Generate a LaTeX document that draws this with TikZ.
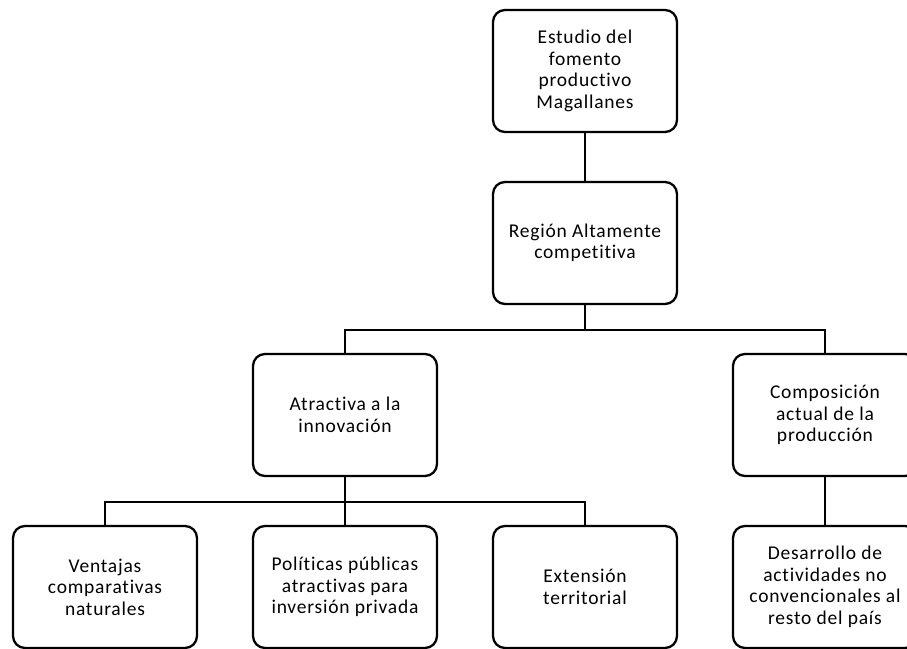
\documentclass[tikz,border=0pt]{standalone}
\usepackage{fontspec}
\setmainfont{Carlito}[LetterSpace=4,Ligatures=CommonOff]
\usetikzlibrary{positioning}

\begin{document}
\begin{tikzpicture}[
      node distance=172pt and 240pt,on grid,
      box/.style={draw, rounded corners=12pt, line width=2.3pt, minimum width=184pt,
        minimum height=122pt, align=center, inner sep=0pt,
        font=\fontsize{19.5}{21.5}\selectfont},
      link/.style={line width=2.5pt},
      ]
      \useasboundingbox (-585pt,71pt) rectangle (322pt,-577pt);

      \node[box]                 (estudio)                          {Estudio del\\fomento\\productivo\\Magallanes};
      \node[box]                 (region)      [below=of estudio]    {Región Altamente\\competitiva};
      \node[box]                 (atractiva)   [below left=of region]  {Atractiva a la\\innovación};
      \node[box]                 (composicion) [below right=of region] {Composición\\actual de la\\producción};
      \node[box]                 (politicas)   [below=of atractiva]  {Políticas públicas\\atractivas para\\inversión privada};
      \node[box]                 (ventajas)    [left=of politicas]   {Ventajas\\comparativas\\naturales};
      \node[box]                 (extension)   [right=of politicas]  {Extensión\\territorial};
      \node[box]                 (desarrollo)  [below=of composicion] {Desarrollo de\\actividades no\\convencionales al\\resto del país};

      \coordinate[below=25pt of region.south]    (fork_1);
      \coordinate[below=25pt of atractiva.south] (fork_2);

      \draw[link] (estudio) -- (region);
      \draw[link] (region.south) -- (fork_1);
      \draw[link] (fork_1) -| (atractiva);
      \draw[link] (fork_1) -| (composicion);
      \draw[link] (atractiva.south) -- (politicas);
      \draw[link] (fork_2) -| (ventajas);
      \draw[link] (fork_2) -| (extension);
      \draw[link] (composicion) -- (desarrollo);
\end{tikzpicture}
\end{document}
